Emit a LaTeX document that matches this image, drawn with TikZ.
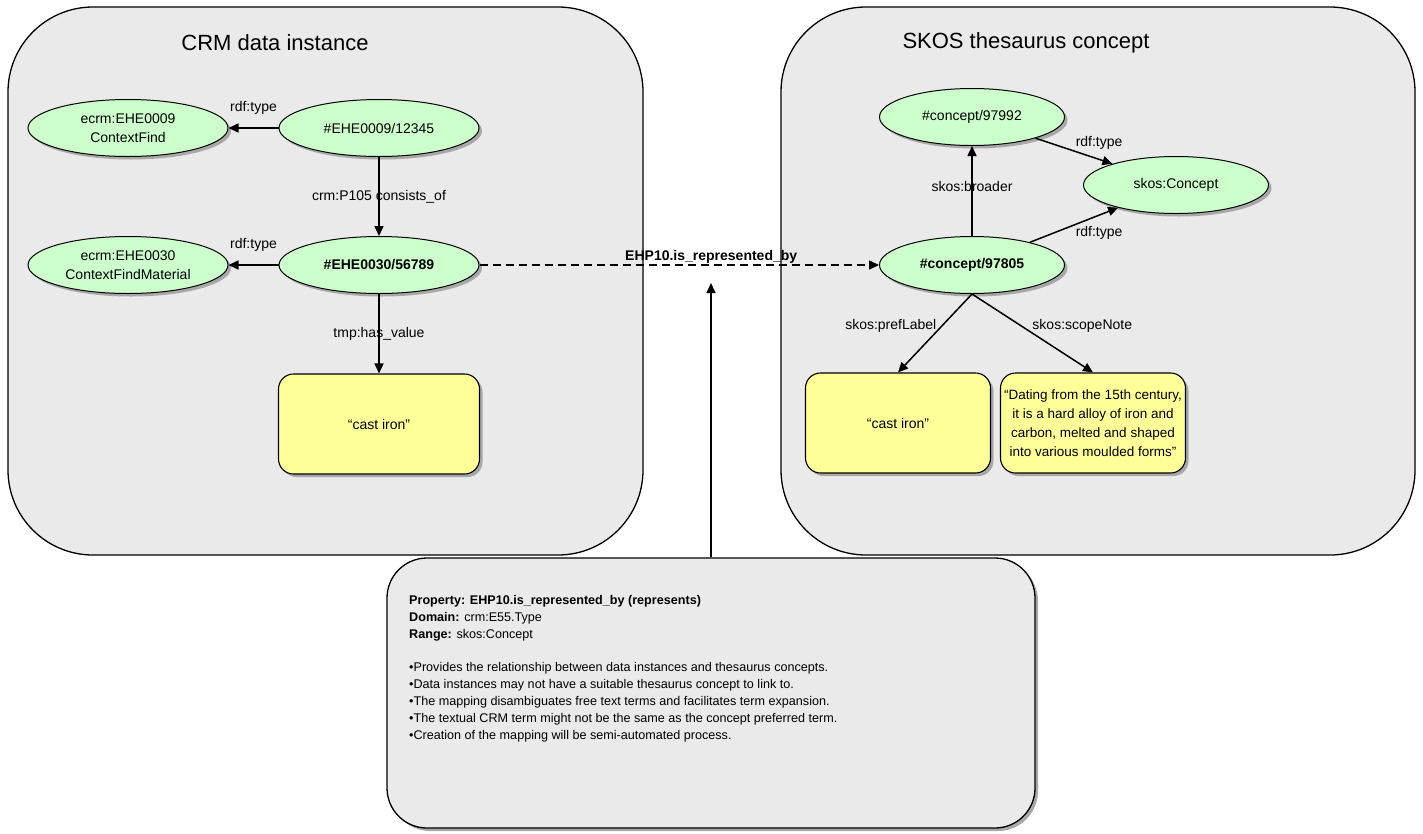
\documentclass[tikz,border=0pt]{standalone}
\usepackage{fontspec}
\setmainfont{Liberation Sans}
\usetikzlibrary{arrows.meta,shapes.geometric,shadows}
\definecolor{rdfGreen}{HTML}{CCFFCC}
\definecolor{rdfYellow}{HTML}{FFFF99}
\definecolor{rdfPanel}{HTML}{EAEAEA}
\definecolor{rdfShadow}{HTML}{A8A8A8}
\tikzset{
  rdf shadow/.style={drop shadow={shadow xshift=3pt, shadow yshift=-3pt, fill=rdfShadow, opacity=1}},
  rdf panel/.style={draw=black, fill=rdfPanel, line width=1.3pt, rounded corners=85pt},
  rdf title/.style={font=\fontsize{22}{26}\selectfont},
  rdf node/.style={ellipse, draw=black, fill=rdfGreen, line width=1pt, minimum width=200pt, minimum height=57pt, inner sep=0pt, align=center, font=\fontsize{14}{19}\selectfont, rdf shadow},
  rdf key node/.style={rdf node, font=\fontsize{14}{19}\selectfont\bfseries},
  rdf literal/.style={rectangle, rounded corners=15pt, draw=black, fill=rdfYellow, line width=1.1pt, minimum width=201pt, minimum height=100pt, align=center, font=\fontsize{14}{19}\selectfont, rdf shadow},
  rdf edge/.style={-{Triangle[length=10pt, width=9pt]}, line width=1.5pt},
  rdf label/.style={font=\fontsize{14}{17}\selectfont},
  rdf note/.style={rectangle, rounded corners=40pt, draw=black, fill=rdfPanel, line width=1.3pt, minimum width=648pt, minimum height=270pt, rdf shadow},
  rdf note text/.style={align=left, inner sep=0pt, font=\fontsize{12.6}{17}\selectfont},
}

\begin{document}
\begin{tikzpicture}[x=1pt, y=-1pt]
  \useasboundingbox (0,0) rectangle (1423,833);
  % Panels
  \draw[rdf panel] (8,7) rectangle (643,555);
  \draw[rdf panel] (781,7) rectangle (1415,555);
  \node[rdf title] (crmtitle) at (275,43) {CRM data instance};
  \node[rdf title] (skostitle) at (1026,43) {SKOS thesaurus concept};
  % CRM data instance
  \node[rdf node] (ctxfind) at (128,128) {ecrm:EHE0009\\ContextFind};
  \node[rdf node] (find) at (379,128) {\#EHE0009/12345};
  \node[rdf node] (ctxmat) at (128,265) {ecrm:EHE0030\\ContextFindMaterial};
  \node[rdf key node] (material) at (379,265) {\#EHE0030/56789};
  \node[rdf literal] (crmlit) at (379,424) {“cast iron”};
  \draw[rdf edge] (find) -- node[rdf label, above=10pt] {rdf:type} (ctxfind);
  \draw[rdf edge] (find) -- node[rdf label] {crm:P105 consists\_of} (material);
  \draw[rdf edge] (material) -- node[rdf label, above=10pt] {rdf:type} (ctxmat);
  \draw[rdf edge] (material) -- node[rdf label] {tmp:has\_value} (crmlit);
  % SKOS thesaurus concept
  \node[rdf node, minimum width=185pt] (broader) at (972,117) {\#concept/97992};
  \node[rdf node, minimum width=185pt] (skosconcept) at (1176,185) {skos:Concept};
  \node[rdf key node, minimum width=185pt] (concept) at (972,265) {\#concept/97805};
  \node[rdf literal, minimum width=185pt] (preflit) at (898,423) {“cast iron”};
  \node[rdf literal, minimum width=185pt, inner sep=1pt, font=\fontsize{13.5}{19}\selectfont] (scopelit) at (1093,423)
    {“Dating from the 15th century,\\it is a hard alloy of iron and\\carbon, melted and shaped\\into various moulded forms”};
  \draw[rdf edge] (concept) -- node[rdf label, pos=0.55] {skos:broader} (broader);
  \draw[rdf edge] (broader) -- node[rdf label, anchor=south west, inner sep=1pt] {rdf:type} (skosconcept);
  \draw[rdf edge] (concept) -- node[rdf label, anchor=north west, inner sep=1pt] {rdf:type} (skosconcept);
  \draw[rdf edge] (concept.south) -- node[rdf label, pos=0.4, left=2pt] {skos:prefLabel} (preflit.north);
  \draw[rdf edge] (concept.south) -- node[rdf label, pos=0.4, right=8pt] {skos:scopeNote} (scopelit.north);
  % Link between the two panels
  \draw[rdf edge, dash pattern=on 8pt off 5pt] (material) -- node[rdf label, font=\fontsize{14}{17}\selectfont\bfseries, pos=0.58, above=0pt, inner sep=1pt] {EHP10.is\_represented\_by} (concept);
  % Property note
  \node[rdf note] (note) at (711,693) {};
  \node[rdf note text, anchor=north west] (notetext) at (409,595)
    {\textbf{Property: EHP10.is\_represented\_by (represents)}\\
     \textbf{Domain:} crm:E55.Type\\
     \textbf{Range:} skos:Concept\\[16pt]
     •Provides the relationship between data instances and thesaurus concepts.\\
     •Data instances may not have a suitable thesaurus concept to link to.\\
     •The mapping disambiguates free text terms and facilitates term expansion.\\
     •The textual CRM term might not be the same as the concept preferred term.\\
     •Creation of the mapping will be semi-automated process.};
  \coordinate (linkmid) at (711,283);
  \draw[rdf edge] (note) -- (linkmid);
\end{tikzpicture}
\end{document}
